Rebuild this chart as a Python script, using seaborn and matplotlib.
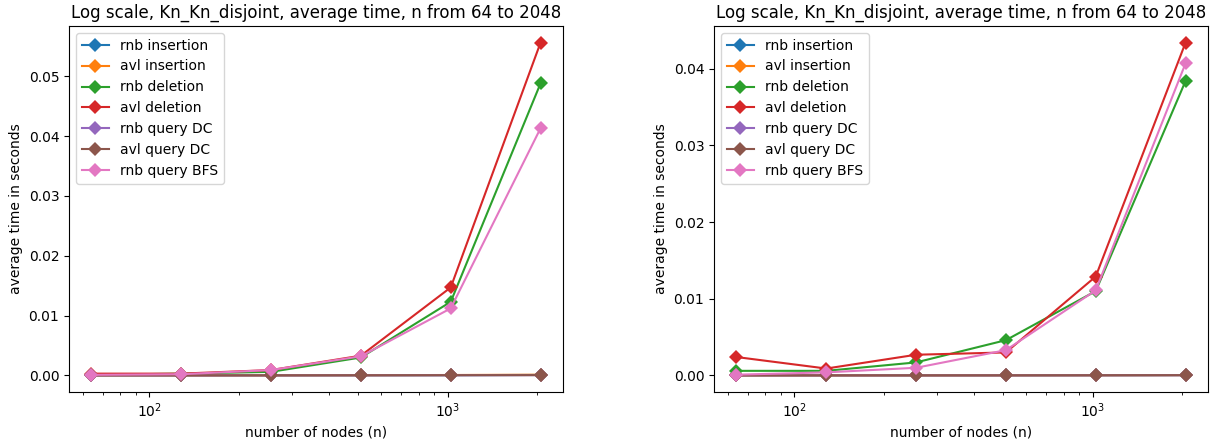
import matplotlib
matplotlib.use("Agg")
import matplotlib.pyplot as plt
import seaborn as sns
import pandas as pd

n_nodes = [64, 128, 256, 512, 1024, 2048]
series_names = ["rnb insertion", "avl insertion", "rnb deletion", "avl deletion",
                "rnb query DC", "avl query DC", "rnb query BFS"]

# left panel
left_rnb_insertion = [0.00001, 0.00001, 0.00002, 0.00003, 0.00005, 0.00008]
left_avl_insertion = [0.00001, 0.00001, 0.00002, 0.00004, 0.00007, 0.00012]
left_rnb_deletion = [0.0001, 0.0003, 0.0006, 0.0030, 0.0123, 0.0488]
left_avl_deletion = [0.0003, 0.0003, 0.0009, 0.0033, 0.0147, 0.0556]
left_rnb_query_dc = [0.00001, 0.00001, 0.00001, 0.00002, 0.00003, 0.00005]
left_avl_query_dc = [0.00001, 0.00001, 0.00001, 0.00002, 0.00003, 0.00005]
left_rnb_query_bfs = [0.0001, 0.0002, 0.0009, 0.0032, 0.0112, 0.0413]

# right panel
right_rnb_insertion = [0.00001, 0.00001, 0.00001, 0.00002, 0.00003, 0.00005]
right_avl_insertion = [0.00001, 0.00001, 0.00001, 0.00002, 0.00003, 0.00005]
right_rnb_deletion = [0.0006, 0.0006, 0.0017, 0.0046, 0.0110, 0.0384]
right_avl_deletion = [0.0024, 0.0009, 0.0027, 0.0030, 0.0129, 0.0434]
right_rnb_query_dc = [0.00001, 0.00001, 0.00001, 0.00001, 0.00002, 0.00003]
right_avl_query_dc = [0.00001, 0.00001, 0.00001, 0.00001, 0.00002, 0.00003]
right_rnb_query_bfs = [0.0001, 0.0004, 0.0010, 0.0033, 0.0111, 0.0407]

left_values = [left_rnb_insertion, left_avl_insertion, left_rnb_deletion, left_avl_deletion,
               left_rnb_query_dc, left_avl_query_dc, left_rnb_query_bfs]
right_values = [right_rnb_insertion, right_avl_insertion, right_rnb_deletion, right_avl_deletion,
                right_rnb_query_dc, right_avl_query_dc, right_rnb_query_bfs]

title = "Log scale, Kn_Kn_disjoint, average time, n from 64 to 2048"
palette = sns.color_palette("tab10", 7)


def long_df(values):
    rows = []
    for name, vals in zip(series_names, values):
        for x, y in zip(n_nodes, vals):
            rows.append({"n": x, "time": y, "series": name})
    return pd.DataFrame(rows)


fig = plt.figure(figsize=(12.17, 4.47), dpi=100)
ax1 = fig.add_axes([69 / 1217, 1 - 392 / 447, 494 / 1217, 366 / 447])
ax2 = fig.add_axes([714 / 1217, 1 - 392 / 447, 494 / 1217, 366 / 447])

for ax, values in [(ax1, left_values), (ax2, right_values)]:
    df = long_df(values)
    sns.lineplot(data=df, x="n", y="time", hue="series", hue_order=series_names,
                 palette=palette, marker="D", markersize=7.5, markeredgewidth=0,
                 linewidth=1.5, ax=ax)
    ax.set_xscale("log")
    ax.set_title(title, fontsize=12)
    ax.set_xlabel("number of nodes (n)")
    ax.set_ylabel("average time in seconds")
    ax.legend(loc="upper left", title=None)

fig.savefig("out.png", dpi=100)
